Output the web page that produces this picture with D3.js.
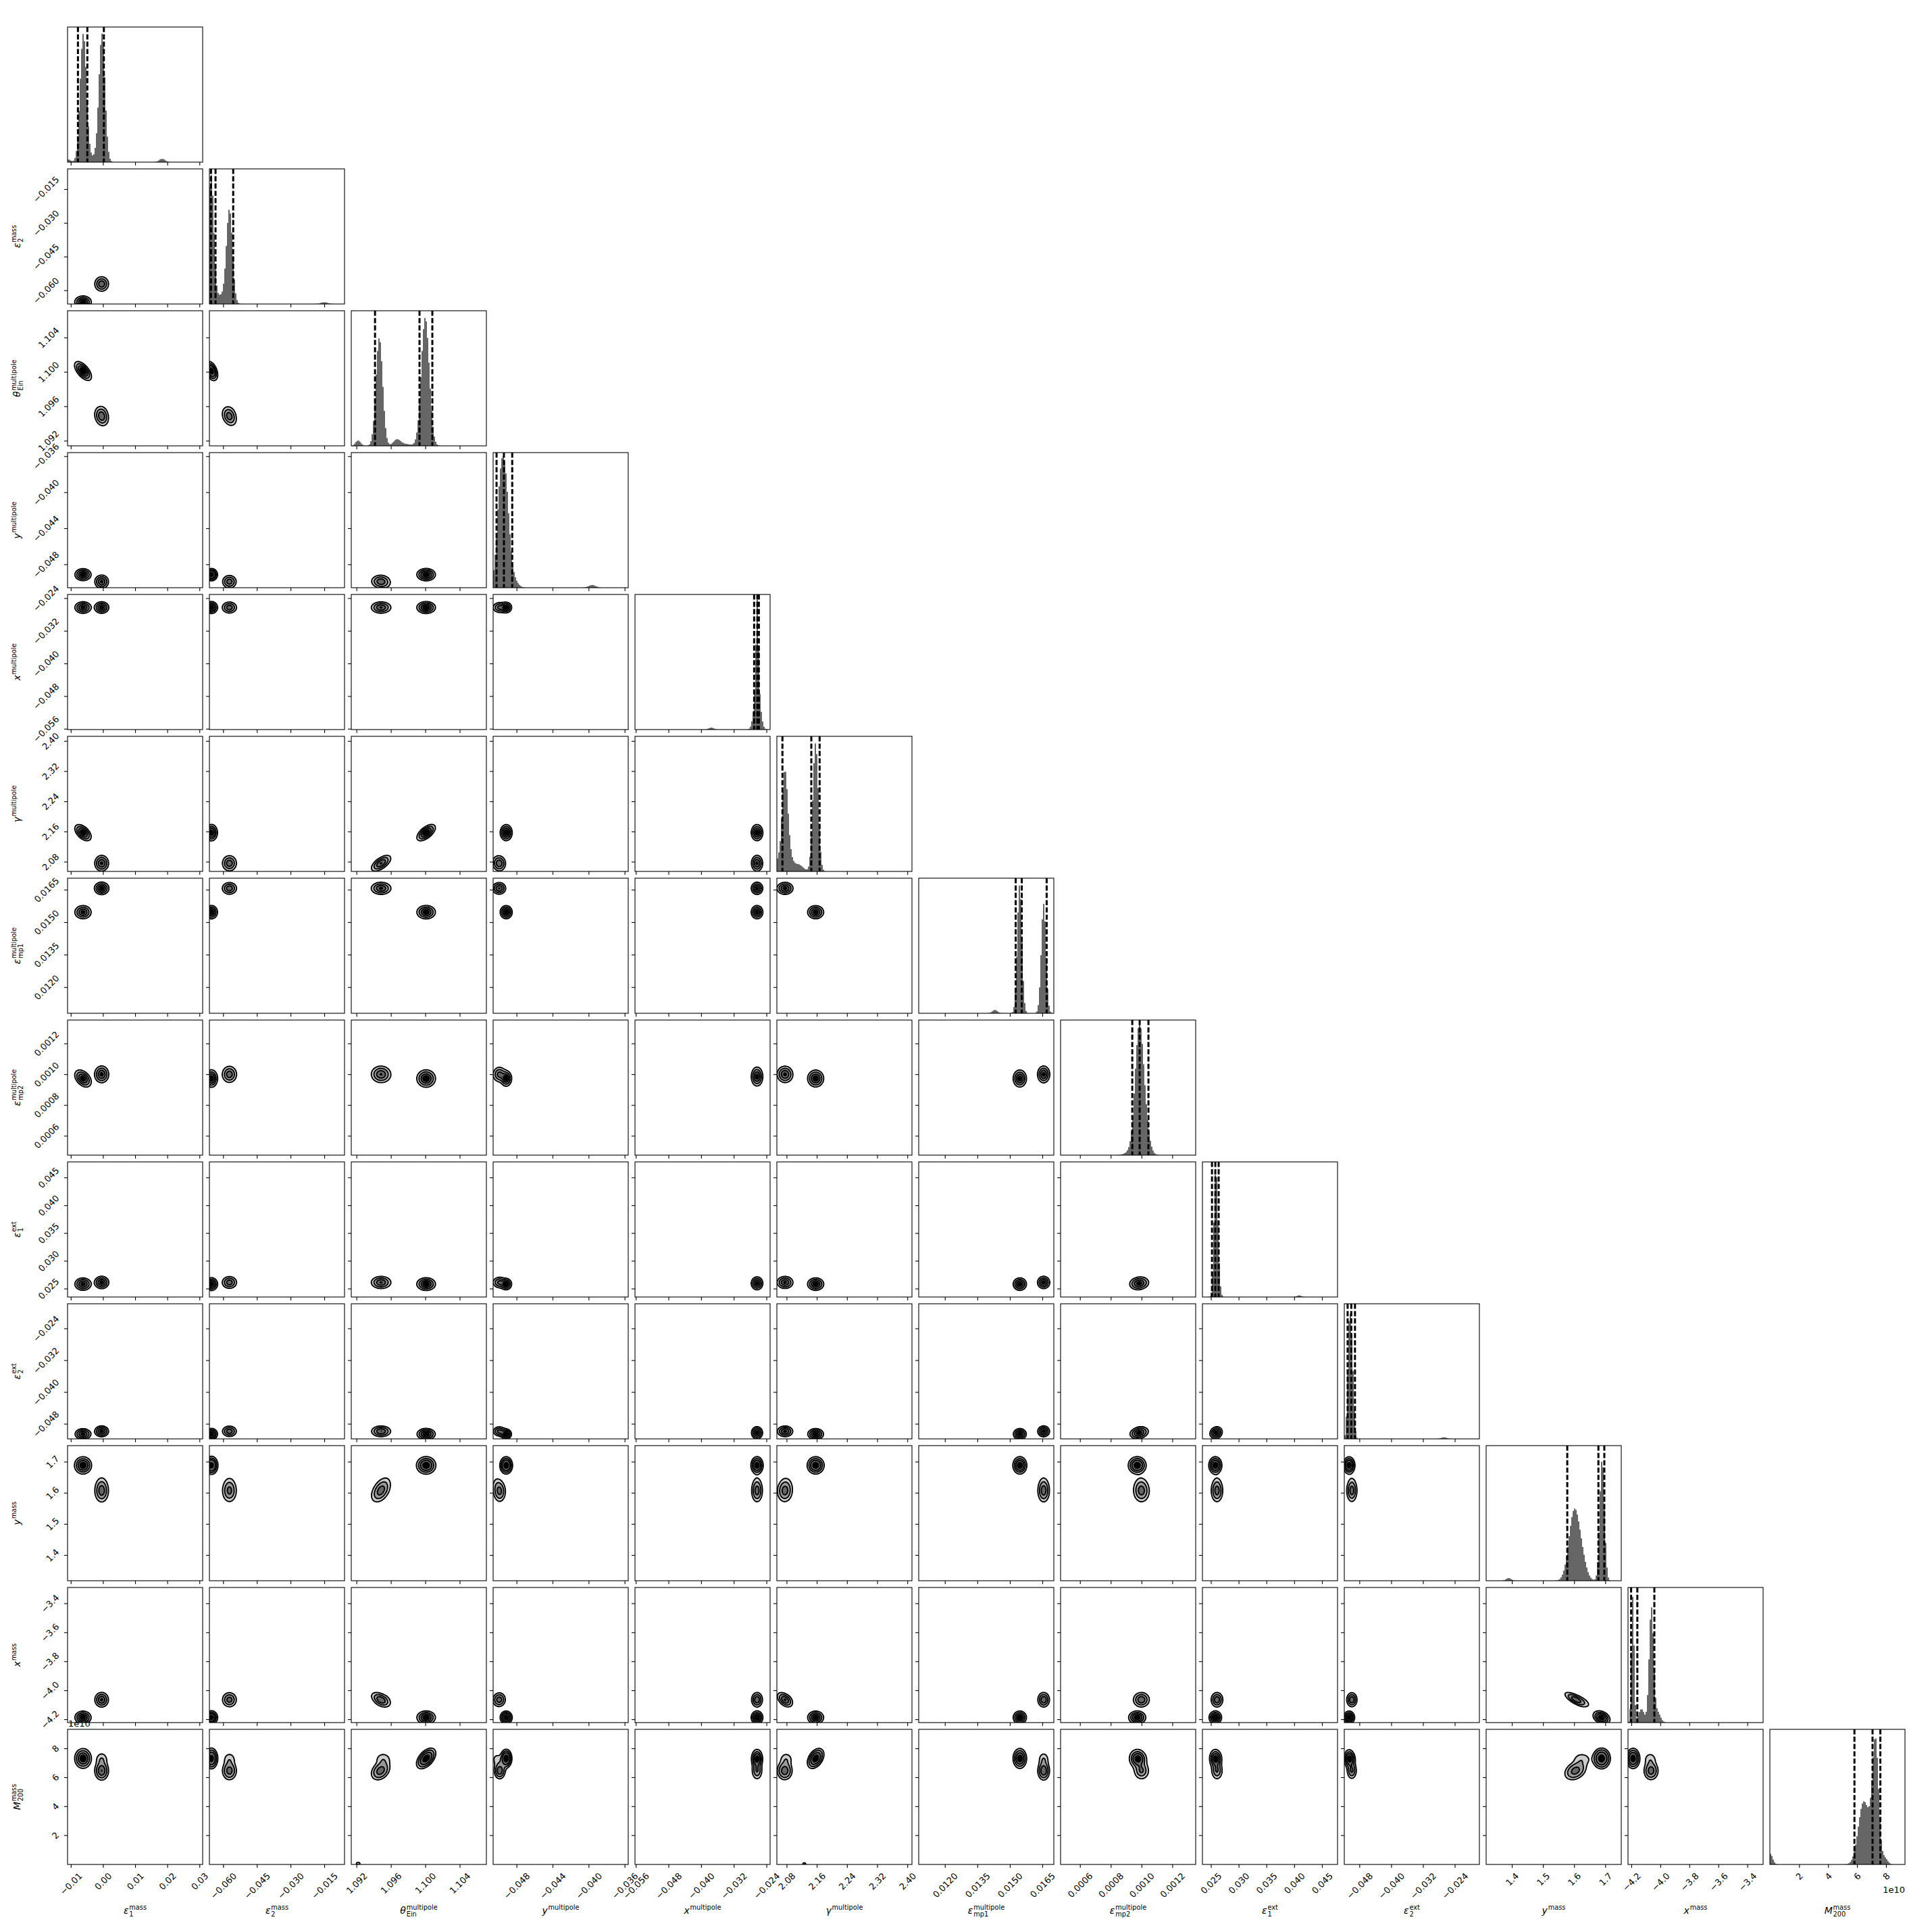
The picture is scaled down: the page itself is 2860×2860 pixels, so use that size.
<!DOCTYPE html>
<html><head><meta charset="utf-8">
<script src="https://cdn.jsdelivr.net/npm/d3@7"></script>
<style>html,body{margin:0;padding:0;background:#fff}</style>
</head><body>
<svg id="chart" width="2860" height="2860" xmlns="http://www.w3.org/2000/svg"></svg>
<script>
// ---------------- DATA ----------------
const labelBase = ["ε","ε","θ","y","x","γ","ε","ε","ε","ε","y","x","M"];
const labelSub  = ["1","2","Ein","","","","mp1","mp2","1","2","","","200"];
const labelSup  = ["mass","mass","multipole","multipole","multipole","multipole","multipole","multipole","ext","ext","mass","mass","mass"];

const domains = [
  [-0.0110, 0.0310], [-0.0661, -0.0060], [1.0914, 1.1071], [-0.0506, -0.0356],
  [-0.0562, -0.0231], [2.0542, 2.4122], [0.01079, 0.01703], [0.000474, 0.001352],
  [0.02348, 0.04780], [-0.0518, -0.0178], [1.3174, 1.7514], [-4.223, -3.291],
  [-0.02e10, 9.31e10]
];
const ticks = [
  [-0.01, 0.00, 0.01, 0.02, 0.03],
  [-0.060, -0.045, -0.030, -0.015],
  [1.092, 1.096, 1.100, 1.104],
  [-0.048, -0.044, -0.040, -0.036],
  [-0.056, -0.048, -0.040, -0.032, -0.024],
  [2.08, 2.16, 2.24, 2.32, 2.40],
  [0.0120, 0.0135, 0.0150, 0.0165],
  [0.0006, 0.0008, 0.0010, 0.0012],
  [0.025, 0.030, 0.035, 0.040, 0.045],
  [-0.048, -0.040, -0.032, -0.024],
  [1.4, 1.5, 1.6, 1.7],
  [-4.2, -4.0, -3.8, -3.6, -3.4],
  [2e10, 4e10, 6e10, 8e10]
];
const tickFormats = [".2f",".3f",".3f",".3f",".3f",".2f",".4f",".4f",".3f",".3f",".1f",".1f","1e10"];

// 16%, 50%, 84% quantiles (dashed lines)
const quantiles = [
  [-0.00777, -0.00485, 0.00029],
  [-0.06539, -0.06338, -0.05552],
  [1.09416, 1.09933, 1.10082],
  [-0.05022, -0.04940, -0.04848],
  [-0.02701, -0.02623, -0.02585],
  [2.0690, 2.1455, 2.1675],
  [0.01527, 0.01555, 0.01670],
  [0.000940, 0.000988, 0.001045],
  [0.0252, 0.0258, 0.0264],
  [-0.05096, -0.05004, -0.04911],
  [1.578, 1.678, 1.697],
  [-4.2016, -4.1587, -4.0413],
  [5.82e10, 7.07e10, 7.61e10]
];

// 1D marginal histogram peaks: [centre, width, height (fraction of panel)]
const histPeaks = [
  [[-0.0061,0.00098,0.95],[-0.0003,0.00094,0.95],[-0.0032,0.0012,0.03],[0.0184,0.0009,0.025],[-0.0108,0.0008,0.02]],
  [[-0.0653,0.00115,0.95],[-0.0572,0.00135,0.70],[-0.0615,0.0018,0.06],[-0.0150,0.0016,0.013]],
  [[1.1000,0.00046,0.95],[1.09466,0.00039,0.80],[1.0922,0.0003,0.04],[1.0967,0.0004,0.04],[1.0975,0.0008,0.015]],
  [[-0.0492,0.0004,0.62],[-0.0498,0.0004,0.66],[-0.0485,0.0005,0.08],[-0.0396,0.0004,0.02]],
  [[-0.02625,0.00028,0.60],[-0.02625,0.0007,0.36],[-0.0375,0.0006,0.015]],
  [[2.0751,0.0075,0.68],[2.085,0.010,0.12],[2.1568,0.0071,0.95],[2.112,0.012,0.05],[2.057,0.004,0.07]],
  [[0.01545,0.000106,0.95],[0.01656,0.000109,0.81],[0.01431,0.00012,0.025]],
  [[0.000982,0.000025,0.70],[0.001010,0.00003,0.35],[0.000955,0.00004,0.05]],
  [[0.0258,0.0003,0.60],[0.0261,0.00035,0.45],[0.0409,0.0004,0.012]],
  [[-0.0506,0.0004,0.70],[-0.0499,0.00045,0.60],[-0.0267,0.0007,0.012]],
  [[1.690,0.0075,0.90],[1.600,0.017,0.50],[1.625,0.015,0.12],[1.390,0.008,0.02]],
  [[-4.190,0.009,0.93],[-4.062,0.015,0.85],[-4.13,0.02,0.10],[-4.02,0.02,0.08]],
  [[7.28e10,0.21e10,0.90],[6.45e10,0.36e10,0.46],[6.9e10,0.2e10,0.08],[0,0.17e10,0.08],[7.9e10,0.2e10,0.05]]
];

// posterior modes seen in the 2D panels (A, B, B2 = tail of B, C = tiny mode)
const modeWeights = [0.52, 0.36, 0.10, 0.012];
const meanA  = [-0.0062, -0.0652, 1.1001, -0.04915, -0.0263, 2.157, 0.01546, 0.000972, 0.0258, -0.0506, 1.688, -4.188, 7.30e10];
const sdA    = [0.00125, 0.0013, 0.00052, 0.00033, 0.0007, 0.0105, 0.00015, 0.000027, 0.00055, 0.0007, 0.013, 0.022, 0.33e10];
const meanB  = [-0.0004, -0.0572, 1.0948, -0.04987, -0.0263, 2.075, 0.01656, 0.001000, 0.0261, -0.0499, 1.604, -4.064, 6.45e10];
const sdB    = [0.0011, 0.00165, 0.00056, 0.00036, 0.0007, 0.0105, 0.00014, 0.000027, 0.00055, 0.0007, 0.018, 0.026, 0.33e10];
const meanB2 = [-0.0004, -0.0572, 1.0951, -0.0502, -0.0263, 2.079, 0.01656, 0.000995, 0.0261, -0.0499, 1.625, -4.070, 7.25e10];
const sdB2   = [0.0011, 0.00165, 0.00056, 0.00036, 0.0007, 0.0105, 0.00014, 0.000027, 0.00055, 0.0007, 0.018, 0.026, 0.28e10];
const meanC  = [null, null, 1.0922, null, null, 2.127, null, null, null, null, null, null, 0.02e10];
const sdC    = [null, null, 0.00020, null, null, 0.005, null, null, null, null, null, null, 0.10e10];
// [param p, param q, mode, correlation]
const correlations = [
  [0,2,0,-0.6],[0,2,1,-0.2],[1,2,0,-0.4],[1,2,1,-0.3],[0,5,0,-0.5],
  [2,5,0,0.6],[2,5,1,0.6],[2,5,2,0.6],[10,11,1,-0.75],[10,11,2,-0.75],[10,11,0,-0.3],
  [2,11,1,-0.5],[5,11,1,-0.5],[2,12,0,0.5],[2,12,1,0.3],[5,12,0,0.4],
  [0,7,0,-0.4],[2,10,1,0.4],[2,10,2,0.4],[10,12,1,0.3]
];
const contourLevels = [0.5, 1.0, 1.5, 2.0].map(k => 1 - Math.exp(-0.5 * k * k));

// ---------------- LAYOUT ----------------
const K = 13, LEFT = 100, TOP = 40, SIZE = 200, GAP = 10;
const colX = i => LEFT + i * (SIZE + GAP);
const rowY = i => TOP + i * (SIZE + GAP);
const FONT = "DejaVu Sans";
const TICK_FS = 13, TICK_LEN = 5, TICK_PAD = 4.9;
const fillColors = ["#cccccc", "#999999", "#666666", "#000000"];

const modeMeans = [meanA, meanB, meanB2, meanC];
const modeSds = [sdA, sdB, sdB2, sdC];

const svg = d3.select("#chart");
svg.append("rect").attr("width", 2860).attr("height", 2860).attr("fill", "#fff");
const defs = svg.append("defs");
defs.append("clipPath").attr("id", "pclip").append("rect")
  .attr("x", 0).attr("y", 0).attr("width", SIZE).attr("height", SIZE);

const xScales = domains.map((d, i) => d3.scaleLinear().domain(d).range([colX(i), colX(i) + SIZE]));
const yScales = domains.map((d, i) => d3.scaleLinear().domain(d).range([rowY(i) + SIZE, rowY(i)]));
const fmt = tickFormats.map(f => f === "1e10" ? (v => String(Math.round(v / 1e10))) : d3.format(f));

function corrOf(p, q, m) {
  for (const c of correlations) {
    if (c[2] === m && ((c[0] === p && c[1] === q) || (c[0] === q && c[1] === p))) return c[3];
  }
  return 0;
}

// ---------------- 1D HISTOGRAMS ----------------
for (let p = 0; p < K; p++) {
  const g = svg.append("g");
  const [d0, d1] = domains[p];
  const nb = 100, bw = (d1 - d0) / nb;
  const bins = d3.range(nb).map(k => {
    const c = d0 + (k + 0.5) * bw;
    const h = d3.sum(histPeaks[p], q => q[2] * Math.exp(-0.5 * ((c - q[0]) / q[1]) ** 2));
    return { x: d0 + k * bw, h: Math.min(h, 1) };
  });
  bins.push({ x: d1, h: bins[nb - 1].h });
  const hy = d3.scaleLinear().domain([0, 1]).range([rowY(p) + SIZE, rowY(p)]);
  const area = d3.area().x(b => xScales[p](b.x)).y0(hy(0)).y1(b => hy(b.h)).curve(d3.curveStepAfter);
  g.append("path").attr("d", area(bins)).attr("fill", "#666666");
  quantiles[p].forEach(q => {
    g.append("line").attr("x1", xScales[p](q)).attr("x2", xScales[p](q))
      .attr("y1", rowY(p)).attr("y2", rowY(p) + SIZE)
      .attr("stroke", "#000").attr("stroke-width", 3).attr("stroke-dasharray", "7.6,3.2");
  });
}

// ---------------- 2D CONTOURS ----------------
const N = SIZE;
for (let r = 1; r < K; r++) {
  for (let c = 0; c < r; c++) {
    const vals = new Float64Array(N * N);
    for (let m = 0; m < modeWeights.length; m++) {
      const w = modeWeights[m];
      const mx = modeMeans[m][c], my = modeMeans[m][r];
      const sx = modeSds[m][c], sy = modeSds[m][r];
      const cx = mx == null ? null : xScales[c](mx) - colX(c);
      const cy = my == null ? null : yScales[r](my) - rowY(r);
      const spx = sx == null ? null : Math.abs(xScales[c](domains[c][0] + sx) - xScales[c](domains[c][0]));
      const spy = sy == null ? null : Math.abs(yScales[r](domains[r][0] + sy) - yScales[r](domains[r][0]));
      const rho = (cx != null && cy != null) ? corrOf(c, r, m) : 0;
      const om = 1 - rho * rho;
      const norm = w / (2 * Math.PI * (spx || SIZE / Math.sqrt(2 * Math.PI)) * (spy || SIZE / Math.sqrt(2 * Math.PI)) * Math.sqrt(om));
      for (let j = 0; j < N; j++) {
        const v = cy == null ? 0 : (cy - (j + 0.5)) / spy;
        for (let i = 0; i < N; i++) {
          const u = cx == null ? 0 : ((i + 0.5) - cx) / spx;
          const q = (u * u - 2 * rho * u * v + v * v) / om;
          if (q < 60) vals[j * N + i] += norm * Math.exp(-0.5 * q);
        }
      }
    }
    // thresholds enclosing the given probability mass
    const s = Float64Array.from(vals).sort();
    const total = s.reduce((a, b) => a + b, 0);
    const V = [];
    let cum = 0, ti = 0;
    for (let k = s.length - 1; k >= 0 && ti < contourLevels.length; k--) {
      cum += s[k];
      while (ti < contourLevels.length && cum / total >= contourLevels[ti]) { V.push(s[k]); ti++; }
    }
    V.sort((a, b) => a - b);
    const contours = d3.contours().size([N, N]).thresholds(V)(Array.from(vals));
    const path = d3.geoPath();
    const g = svg.append("g").attr("transform", `translate(${colX(c)},${rowY(r)})`).attr("clip-path", "url(#pclip)");
    contours.forEach((ct, k) => g.append("path").attr("d", path(ct)).attr("fill", fillColors[k]));
    contours.forEach(ct => g.append("path").attr("d", path(ct)).attr("fill", "none")
      .attr("stroke", "#000").attr("stroke-width", 1.9).attr("stroke-linejoin", "round"));
  }
}

// ---------------- FRAMES & AXES ----------------
function styleTicks(g) {
  g.select(".domain").remove();
  g.selectAll(".tick line").attr("stroke", "#000").attr("stroke-width", 1.1);
  g.selectAll(".tick text").attr("font-family", FONT).attr("font-size", TICK_FS).attr("fill", "#000");
}
for (let r = 0; r < K; r++) {
  for (let c = 0; c <= r; c++) {
    svg.append("rect").attr("x", colX(c)).attr("y", rowY(r)).attr("width", SIZE).attr("height", SIZE)
      .attr("fill", "none").attr("stroke", "#000").attr("stroke-width", 1.1);
    const showX = r === K - 1;
    const gx = svg.append("g").attr("transform", `translate(0,${rowY(r) + SIZE})`)
      .call(d3.axisBottom(xScales[c]).tickValues(ticks[c]).tickSize(TICK_LEN).tickSizeOuter(0)
        .tickFormat(showX ? fmt[c] : () => ""));
    styleTicks(gx);
    if (showX) {
      gx.selectAll(".tick text").each(function () {
        const t = d3.select(this);
        t.attr("dy", null).attr("y", null).attr("x", null)
          .attr("text-anchor", "middle").attr("dominant-baseline", "central");
        const w = this.getComputedTextLength(), h = TICK_FS * 1.05;
        const off = (w + h) / (2 * Math.SQRT2);
        t.attr("transform", `translate(0,${TICK_LEN + TICK_PAD + off}) rotate(-45)`);
      });
    }
    if (c < r) {
      const showY = c === 0;
      const gy = svg.append("g").attr("transform", `translate(${colX(c)},0)`)
        .call(d3.axisLeft(yScales[r]).tickValues(ticks[r]).tickSize(TICK_LEN).tickSizeOuter(0)
          .tickFormat(showY ? fmt[r] : () => ""));
      styleTicks(gy);
      if (showY) {
        gy.selectAll(".tick text").each(function () {
          const t = d3.select(this);
          t.attr("dy", null).attr("y", null).attr("x", null)
            .attr("text-anchor", "middle").attr("dominant-baseline", "central");
          const w = this.getComputedTextLength(), h = TICK_FS * 1.05;
          const off = (w + h) / (2 * Math.SQRT2);
          t.attr("transform", `translate(${-(TICK_LEN + TICK_PAD + off)},0) rotate(-45)`);
        });
      }
    }
  }
}

// offset texts
svg.append("text").attr("x", colX(0) + 1).attr("y", rowY(K - 1) - 4)
  .attr("font-family", FONT).attr("font-size", TICK_FS).text("1e10");
svg.append("text").attr("x", colX(K - 1) + SIZE).attr("y", rowY(K - 1) + SIZE + 42)
  .attr("text-anchor", "end").attr("font-family", FONT).attr("font-size", TICK_FS).text("1e10");

// ---------------- AXIS LABELS ----------------
function drawLabel(p, x, y, rotated) {
  const g = svg.append("g").attr("transform", rotated ? `translate(${x},${y}) rotate(-90)` : `translate(${x},${y})`);
  const inner = g.append("g");
  const base = inner.append("text").attr("x", 0).attr("y", 0).attr("font-family", FONT)
    .attr("font-style", "italic").attr("font-size", 14).text(labelBase[p]);
  const bw = base.node().getComputedTextLength() + 0.8;
  let supW = 0, subW = 0;
  if (labelSup[p]) {
    const s = inner.append("text").attr("x", bw).attr("y", -5.8).attr("font-family", FONT)
      .attr("font-size", 9.8).text(labelSup[p]);
    supW = s.node().getComputedTextLength();
  }
  if (labelSub[p]) {
    const s = inner.append("text").attr("x", bw).attr("y", 3.6).attr("font-family", FONT)
      .attr("font-size", 9.8).text(labelSub[p]);
    subW = s.node().getComputedTextLength();
  }
  const total = bw + Math.max(supW, subW);
  inner.attr("transform", `translate(${-total / 2},0)`);
}
for (let p = 0; p < K; p++) {
  drawLabel(p, colX(p) + SIZE / 2, rowY(K - 1) + SIZE + 73, false);
  if (p > 0) drawLabel(p, 30, rowY(p) + SIZE / 2, true);
}
</script>
</body></html>
